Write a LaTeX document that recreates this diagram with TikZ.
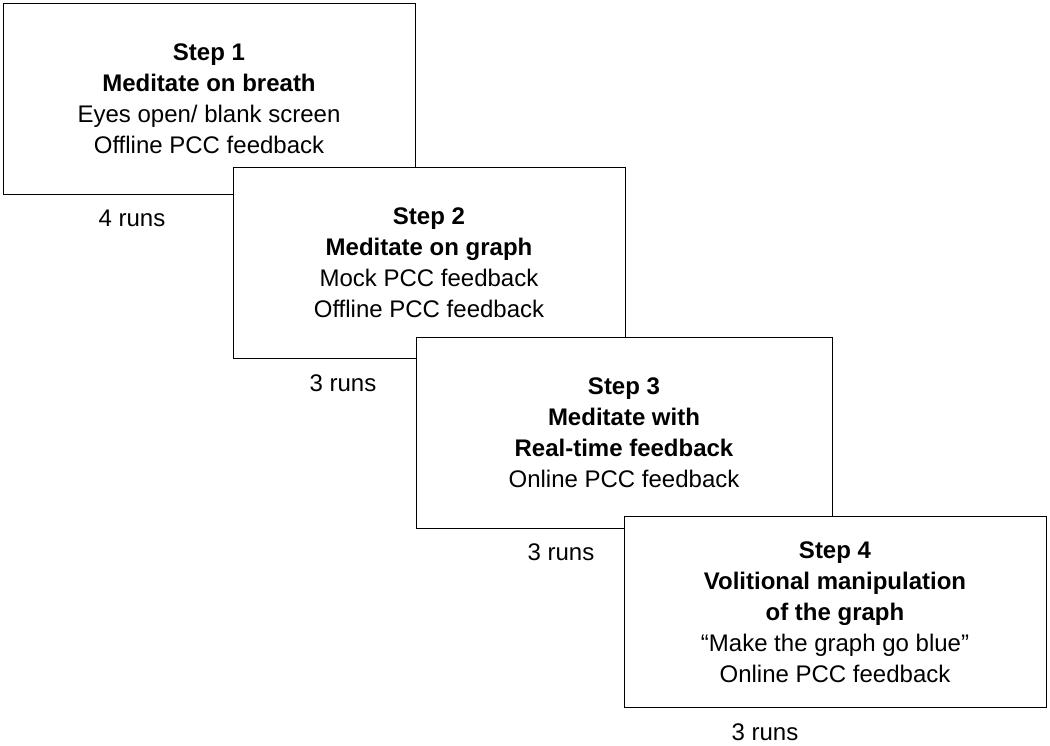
\documentclass[tikz,border=0pt]{standalone}
\usepackage{fontspec}
\setmainfont{Liberation Sans}
\begin{document}
\begin{tikzpicture}[x=1pt,y=-1pt,
  step/.style={draw,thick,fill=white,minimum width=#1,minimum height=191pt,align=center,
    font=\fontsize{24}{31}\selectfont,inner sep=0pt},
  runs/.style={font=\fontsize{24}{29}\selectfont}]
  \useasboundingbox (0,0) rectangle (1050,746);

  \node[step=412pt] (s1) at (209,99) {\textbf{Step 1}\\ \textbf{Meditate on breath}\\ Eyes open/ blank screen\\ Offline PCC feedback};
  \node[runs] (r1) at (132,218) {4 runs};

  \node[step=392pt] (s2) at (429,263) {\textbf{Step 2}\\ \textbf{Meditate on graph}\\ Mock PCC feedback\\ Offline PCC feedback};
  \node[runs] (r2) at (343,383) {3 runs};

  \node[step=416pt] (s3) at (624,433) {\textbf{Step 3}\\ \textbf{Meditate with}\\ \textbf{Real-time feedback}\\ Online PCC feedback};
  \node[runs] (r3) at (561,552) {3 runs};

  \node[step=422pt] (s4) at (835,612) {\textbf{Step 4}\\ \textbf{Volitional manipulation}\\ \textbf{of the graph}\\ ``Make the graph go blue''\\ Online PCC feedback};
  \node[runs] (r4) at (765,732) {3 runs};
\end{tikzpicture}
\end{document}
